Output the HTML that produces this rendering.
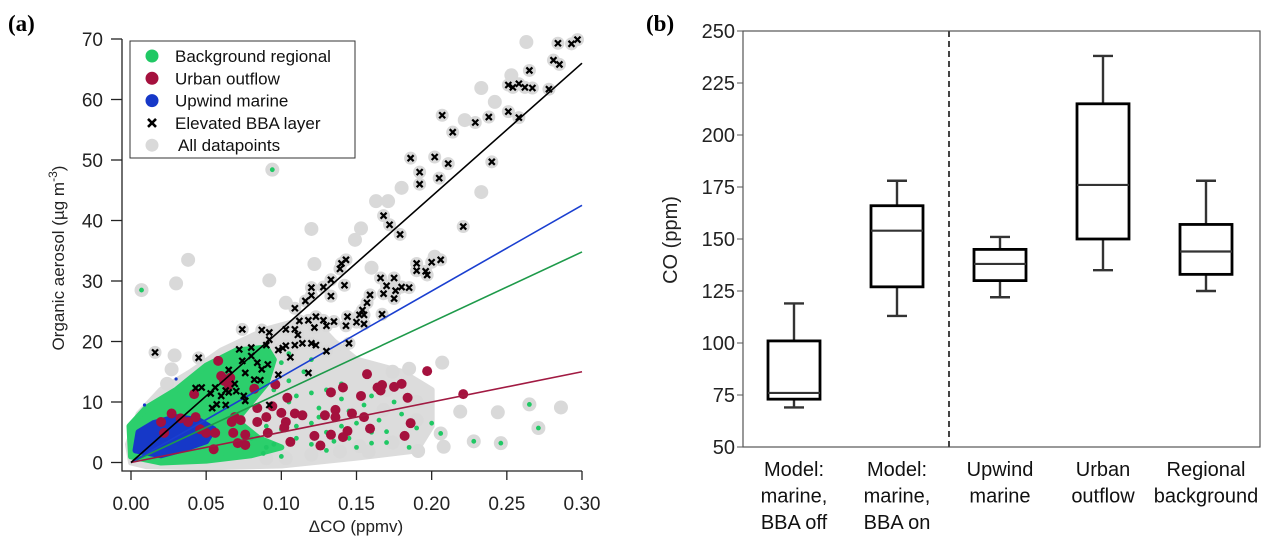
<!DOCTYPE html>
<html><head><meta charset="utf-8"><style>
html,body{margin:0;padding:0;background:#fff;}
svg{display:block;font-family:"Liberation Sans",Arial,sans-serif;}
</style></head><body>
<svg id="fig" width="1283" height="548" viewBox="0 0 1283 548">
<text x="8" y="31" font-family="Liberation Serif" font-weight="bold" font-size="23">(a)</text>
<text x="646" y="31" font-family="Liberation Serif" font-weight="bold" font-size="23">(b)</text>
<g id="pa"></g>
<g id="pb"></g>
</svg>
<script>
const NS="http://www.w3.org/2000/svg";
function mk(p,t,a){const e=document.createElementNS(NS,t);for(const k in a)e.setAttribute(k,a[k]);p.appendChild(e);return e;}

// ---------- Panel (a) data ----------
const xTicks=[0,0.05,0.10,0.15,0.20,0.25,0.30];
const xTickLabels=["0.00","0.05","0.10","0.15","0.20","0.25","0.30"];
const yTicks=[0,10,20,30,40,50,60,70];
const fitSlopes={black:220,blue:141.7,green:116,red:50};
const grayCloud=[[0,0],[-0.002,3],[0.005,8],[0.02,12],[0.04,15],[0.06,18.5],[0.09,22],[0.12,24],[0.135,20],[0.15,17],[0.18,15],[0.2,12],[0.2,6],[0.19,2],[0.15,0.8],[0.1,-0.5],[0.05,-0.8],[0.01,-0.6]];
const greenCloud=[[0,1],[-0.001,6],[0.01,9],[0.03,12],[0.05,16],[0.07,18.5],[0.09,19],[0.095,17],[0.09,13],[0.08,10],[0.07,7],[0.085,4],[0.1,2.5],[0.08,1.2],[0.05,0.3],[0.02,0]];
const blueCloud=[[0.003,2],[0.005,5],[0.015,6.5],[0.03,7.5],[0.045,7],[0.055,5.5],[0.05,3.5],[0.035,2.2],[0.02,1.2]];
const grayX=[0.263,0.233,0.242,0.253,0.222,0.233,0.180,0.163,0.171,0.120,0.153,0.149,0.038,0.030,0.092,0.007,0.094,0.207,0.286,0.265,0.244,0.219,0.228,0.246,0.271,0.208,0.191,0.152,0.206,0.202,0.029,0.160,0.122,0.103,0.027,0.024,0.185,0.174,0.190,0.168,0.174,0.158,0.139,0.120,0.103,0.090,0.17,0.19];
const grayY=[69.5,61.9,59.6,64,56.6,44.7,45.4,43.2,43.2,38.6,38.7,36.8,33.5,29.6,30.1,28.5,48.4,16.5,9.1,9.6,8.3,8.4,3.5,3.2,5.7,2.6,1.9,2.7,4.8,34,17.7,32.2,32.8,26.4,15.4,13,15.5,15,10,8.7,3.3,1.8,1.8,1.3,0.7,0.7,12,7];
const greenX=[0.007,0.094,0.265,0.271,0.228,0.246,0.206,0.19,0.17,0.16,0.15,0.17,0.185,0.14,0.125,0.13,0.11,0.12,0.18,0.175,0.155,0.14,0.095,0.11,0.105,0.12,0.09,0.08,0.16,0.2,0.14,0.115,0.105,0.12,0.1,0.135,0.15,0.165,0.145,0.125,0.1,0.11,0.13,0.09,0.115,0.135,0.1,0.12,0.085,0.095,0.105,0.13,0.145,0.16,0.075,0.088,0.1];
const greenY=[28.5,48.4,9.6,5.7,3.5,3.2,4.8,5.7,5.1,3.2,2.5,3.3,2.5,6,9,5,6,3,8,10,9.5,10.5,3,11,10,11.5,6,4,11,6.5,13,15,18,17,16.5,7.5,6.5,7,4,7.5,8,4,2,2.5,8,3.5,5.5,6.5,9,12,13.5,12,8.5,5,3,1.5,1];
const blueX=[0.03,0.009,0.04,0.02,0.035];
const blueY=[13.8,9.5,5.5,3,4];
const redX=[0.197,0.157,0.180,0.175,0.164,0.167,0.166,0.141,0.133,0.153,0.184,0.221,0.096,0.104,0.058,0.060,0.062,0.065,0.066,0.082,0.042,0.084,0.094,0.100,0.109,0.114,0.129,0.136,0.147,0.136,0.155,0.186,0.159,0.144,0.133,0.141,0.122,0.126,0.182,0.106,0.103,0.102,0.090,0.084,0.069,0.067,0.073,0.068,0.076,0.076,0.071,0.056,0.050,0.055,0.046,0.033,0.027,0.020,0.022,0.038,0.043,0.091];
const redY=[15.1,14.6,13,12.5,12.4,12.8,11.9,12.4,11.6,11,10.7,11.3,12.9,10.7,16.8,14.3,13.5,12.8,14,12.2,11.3,9,9.3,8.2,8.1,7.8,7.8,8.7,8.1,7.5,7.5,6.5,5.6,5.2,4.6,4.2,4.4,2.8,4.4,3.4,6.7,5.8,7.5,6.7,7.5,6.7,7,4.9,4.6,2.9,3.2,4.9,4.9,2.2,5.5,7.3,8.1,6.7,4.9,6.7,7.5,4.9];
const bbaX=[0.284,0.293,0.297,0.281,0.285,0.265,0.251,0.254,0.258,0.262,0.267,0.278,0.251,0.258,0.238,0.229,0.207,0.214,0.240,0.186,0.202,0.211,0.192,0.205,0.192,0.168,0.172,0.179,0.221,0.143,0.140,0.139,0.133,0.142,0.128,0.120,0.120,0.133,0.116,0.109,0.206,0.200,0.190,0.190,0.196,0.197,0.166,0.175,0.185,0.170,0.176,0.180,0.159,0.157,0.175,0.168,0.154,0.152,0.167,0.155,0.144,0.150,0.155,0.143,0.145,0.135,0.128,0.123,0.130,0.122,0.118,0.112,0.109,0.103,0.074,0.087,0.092,0.092,0.090,0.111,0.114,0.123,0.120,0.109,0.098,0.101,0.103,0.106,0.072,0.080,0.080,0.130,0.016,0.045,0.074,0.084,0.065,0.076,0.091,0.098,0.118,0.087,0.082,0.086,0.043,0.047,0.056,0.053,0.060,0.063,0.069,0.065,0.070,0.075,0.076,0.054,0.057,0.063,0.092];
const bbaY=[69.3,69.2,69.9,66.5,65.8,64.8,62.4,62,62.6,62,61.9,61.7,58,57,57.1,56.2,57.4,54.6,49.7,50.3,50.5,49.4,48,47,46,40.8,39.3,37.7,39,33.5,32.9,32,30.2,29.3,29,28.9,27.6,27.5,26.7,25.5,33.5,33.1,32.9,31.7,31.6,31,30.5,30.5,28.9,29.2,28.4,29,27.7,26.4,27.1,27.9,25.2,24.4,24.5,24.4,24.1,23.2,22.9,22.6,19.7,23.3,23.5,24.1,22.6,22.3,23.5,23.4,22,22,22,21.9,21.5,20.3,19.4,21.1,19.7,19.4,19.7,19.4,18.6,18.9,19.3,17.4,18.7,19,17.6,18.4,18.2,17.3,16.8,16.5,15.3,14.8,16.2,14.5,14.8,15.4,13.7,13.6,12.3,12.4,12.4,11.4,11,11.9,13,11.6,11.8,11,10.2,9,9.6,9.5,9.5];

const X=v=>131+v/0.3*451, Y=v=>462.5-v/70*423.5;
const pa=document.getElementById('pa');
function poly(pts,fill,name){
  const e=mk(pa,'polygon',{points:pts.map(p=>X(p[0])+','+Y(p[1])).join(' '),fill:fill,stroke:fill,'stroke-width':6,'stroke-linejoin':'round'});
  
  
}
poly(grayCloud,'#dcdcdc','gray-density-cloud');
for(let i=0;i<grayX.length;i++){const c=mk(pa,'circle',{cx:X(grayX[i]),cy:Y(grayY[i]),r:7,fill:'#d9d9d9'});

}
for(let i=0;i<bbaX.length;i++){const c=mk(pa,'circle',{cx:X(bbaX[i]),cy:Y(bbaY[i]),r:6.5,fill:'#d9d9d9'});

}
poly(greenCloud,'#2ccf6c','background-regional-cloud');
for(let i=0;i<greenX.length;i++){const c=mk(pa,'circle',{cx:X(greenX[i]),cy:Y(greenY[i]),r:2.4,fill:'#20c864'});

}
poly(blueCloud,'#1638c8','upwind-marine-cloud');
for(let i=0;i<blueX.length;i++){const c=mk(pa,'circle',{cx:X(blueX[i]),cy:Y(blueY[i]),r:1.6,fill:'#1638c8'});

}
for(let i=0;i<redX.length;i++){const c=mk(pa,'circle',{cx:X(redX[i]),cy:Y(redY[i]),r:5,fill:'#a5113e'});

}
const lineCols={black:'#000',blue:'#1a3fd0',green:'#1e9a4a',red:'#a11a42'};
['green','blue','red','black'].forEach(k=>{const l=mk(pa,'line',{x1:X(0),y1:Y(0),x2:X(0.3),y2:Y(fitSlopes[k]*0.3),stroke:lineCols[k],'stroke-width':1.6});

});
for(let i=0;i<bbaX.length;i++){const cx=X(bbaX[i]),cy=Y(bbaY[i]);const g=mk(pa,'path',{d:`M${cx-3},${cy-3}L${cx+3},${cy+3}M${cx+3},${cy-3}L${cx-3},${cy+3}`,stroke:'#000','stroke-width':2.2});

}
// axes
let ax=mk(pa,'path',{d:'M122,39V471H582',fill:'none',stroke:'#222','stroke-width':1.3});


xTicks.forEach((t,i)=>{mk(pa,'line',{x1:X(t),x2:X(t),y1:471,y2:480,stroke:'#222','stroke-width':1.3});
const tx=mk(pa,'text',{x:X(t),y:510,'text-anchor':'middle','font-size':19,fill:'#222'});tx.textContent=xTickLabels[i];

});
yTicks.forEach(t=>{mk(pa,'line',{x1:111,x2:122,y1:Y(t),y2:Y(t),stroke:'#222','stroke-width':1.3});
const tx=mk(pa,'text',{x:103,y:Y(t)+7,'text-anchor':'end','font-size':19,fill:'#222'});tx.textContent=t;

});
let xl=mk(pa,'text',{x:356,y:532,'text-anchor':'middle','font-size':17,fill:'#222'});xl.textContent='ΔCO (ppmv)';


let yl=mk(pa,'text',{x:0,y:0,'text-anchor':'middle','font-size':17,fill:'#222',transform:'translate(64,258) rotate(-90)'});
yl.innerHTML='Organic aerosol (µg m<tspan dy="-7" font-size="12">-3</tspan><tspan dy="7">)</tspan>';


// legend
const lg=mk(pa,'g',{});


mk(lg,'rect',{x:130,y:41,width:225,height:117,fill:'#fff',stroke:'#333','stroke-width':1});
const legLabels=['Background regional','Urban outflow','Upwind marine','Elevated BBA layer','All datapoints'];
const legCols=['#20c864','#a5113e','#1638c8','#000','#d9d9d9'];
legLabels.forEach((s,i)=>{const y=56+i*22.3;
if(i==3){mk(lg,'path',{d:`M148,${y-4}L156,${y+4}M156,${y-4}L148,${y+4}`,stroke:'#000','stroke-width':2.6});}
else mk(lg,'circle',{cx:152,cy:y,r:6.5,fill:legCols[i]});
const t=mk(lg,'text',{x:i==4?178:175,y:y+6,'font-size':17,fill:'#111'});t.textContent=s;

});

// ---------- Panel (b) ----------
const boxCats=[["Model:","marine,","BBA off"],["Model:","marine,","BBA on"],["Upwind","marine"],["Urban","outflow"],["Regional","background"]];
const whiskLo=[69,113,122,135,125];
const q1=[73,127,130,150,133];
const medians=[76,154,138,176,144];
const q3=[101,166,145,215,157];
const whiskHi=[119,178,151,238,178];
const bTicks=[50,75,100,125,150,175,200,225,250];
const pb=document.getElementById('pb');
const BY=v=>447-(v-50)/200*416;
const BX=i=>794+i*103;
let fr=mk(pb,'rect',{x:743,y:31,width:517,height:416,fill:'none',stroke:'#555','stroke-width':1.2});


let dl=mk(pb,'line',{x1:949,x2:949,y1:31,y2:447,stroke:'#444','stroke-width':2,'stroke-dasharray':'6,4'});


bTicks.forEach(t=>{mk(pb,'line',{x1:737,x2:743,y1:BY(t),y2:BY(t),stroke:'#555'});
const tx=mk(pb,'text',{x:735,y:BY(t)+7,'text-anchor':'end','font-size':20,fill:'#222'});tx.textContent=t;

});
let byl=mk(pb,'text',{x:0,y:0,'text-anchor':'middle','font-size':20,fill:'#222',transform:'translate(677,240) rotate(-90)'});byl.textContent='CO (ppm)';


boxCats.forEach((c,i)=>{const cx=BX(i),w=26;
const g=mk(pb,'g',{});


mk(g,'path',{d:`M${cx},${BY(whiskHi[i])}V${BY(q3[i])}M${cx},${BY(q1[i])}V${BY(whiskLo[i])}M${cx-10},${BY(whiskHi[i])}H${cx+10}M${cx-10},${BY(whiskLo[i])}H${cx+10}`,stroke:'#333','stroke-width':2.4,fill:'none'});
mk(g,'rect',{x:cx-w,y:BY(q3[i]),width:2*w,height:BY(q1[i])-BY(q3[i]),fill:'none',stroke:'#000','stroke-width':2.8});
mk(g,'line',{x1:cx-w,x2:cx+w,y1:BY(medians[i]),y2:BY(medians[i]),stroke:'#333','stroke-width':2.2});
c.forEach((s,j)=>{const t=mk(pb,'text',{x:cx,y:476+j*26.5,'text-anchor':'middle','font-size':20,fill:'#111'});t.textContent=s;

});});
</script>
</body></html>
